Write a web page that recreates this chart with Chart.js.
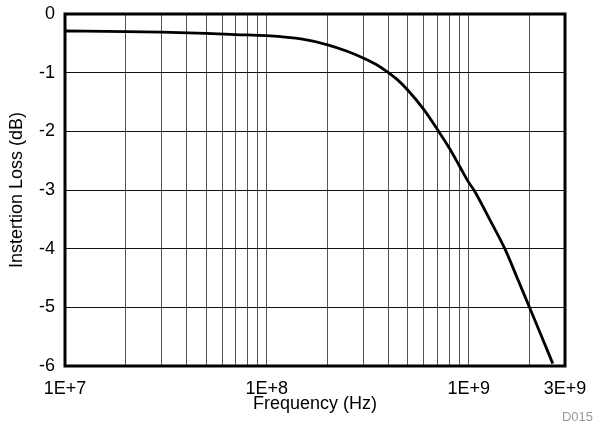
<!DOCTYPE html>
<html>
<head>
<meta charset="utf-8">
<script src="https://cdn.jsdelivr.net/npm/chart.js@4.4.0/dist/chart.umd.min.js"></script>
<style>
  html, body { margin: 0; padding: 0; background: #fff; }
  #wrap { width: 595px; height: 423px; }
</style>
</head>
<body>
<div id="wrap"><canvas id="chart" width="595" height="423"></canvas></div>
<script>
// Insertion loss curve
const frequency = [1e7, 2e7, 3e7, 5e7, 7e7, 1e8, 1.5e8, 2e8, 2.5e8, 3e8, 3.5e8, 4e8, 4.5e8, 5e8,
                   6e8, 7e8, 8e8, 9e8, 1e9, 1.07e9, 1.27e9, 1.51e9, 1.74e9, 2e9, 2.3e9, 2.61e9];
const insertionLoss = [-0.29, -0.30, -0.31, -0.33, -0.35, -0.37, -0.43, -0.525, -0.635, -0.75, -0.865, -1.0, -1.14, -1.30,
                       -1.63, -1.97, -2.28, -2.59, -2.87, -3.02, -3.5, -4.0, -4.5, -5.0, -5.5, -5.96];

// vertical grid lines and the ones that get a label
const xGridValues = [1e7, 2e7, 3e7, 4e7, 5e7, 6e7, 7e7, 8e7, 9e7,
                     1e8, 2e8, 3e8, 4e8, 5e8, 6e8, 7e8, 8e8, 9e8,
                     1e9, 2e9, 3e9];
const xLabels = { 1e7: '1E+7', 1e8: '1E+8', 1e9: '1E+9', 3e9: '3E+9' };
const yTicks = [0, -1, -2, -3, -4, -5, -6];

const FONT = 'Liberation Sans, Arial, sans-serif';

const frameAndNote = {
    id: 'frameAndNote',
    afterDraw(chart) {
        const ctx = chart.ctx;
        const a = chart.chartArea;
        ctx.save();
        ctx.strokeStyle = '#000';
        ctx.lineWidth = 3;
        ctx.strokeRect(a.left, a.top, a.right - a.left, a.bottom - a.top);
        ctx.fillStyle = '#999';
        ctx.font = '13px ' + FONT;
        ctx.textAlign = 'right';
        ctx.textBaseline = 'alphabetic';
        ctx.fillText('D015', 593, 421);
        ctx.restore();
    }
};

new Chart(document.getElementById('chart'), {
    type: 'line',
    data: {
        datasets: [{
            data: frequency.map((f, i) => ({ x: f, y: insertionLoss[i] })),
            borderColor: '#000',
            borderWidth: 2.8,
            pointRadius: 0,
            cubicInterpolationMode: 'monotone',
            fill: false
        }]
    },
    options: {
        responsive: false,
        animation: false,
        layout: { padding: { top: 14, right: 30, left: 0, bottom: 0 } },
        plugins: {
            legend: { display: false },
            tooltip: { enabled: false }
        },
        scales: {
            x: {
                type: 'logarithmic',
                min: 1e7,
                max: 3e9,
                afterBuildTicks(scale) {
                    scale.ticks = xGridValues.map(v => ({ value: v }));
                },
                afterFit(scale) {
                    scale.height = 57;
                    scale.paddingLeft = 0;
                    scale.paddingRight = 0;
                },
                grid: { color: '#555', lineWidth: 1, drawTicks: false },
                border: { display: false },
                ticks: {
                    autoSkip: false,
                    maxRotation: 0,
                    padding: 12,
                    color: '#000',
                    font: { family: FONT, size: 18 },
                    callback: v => xLabels[v] || ''
                },
                title: {
                    display: true,
                    text: 'Frequency (Hz)',
                    color: '#000',
                    font: { family: FONT, size: 18 },
                    padding: { top: 0, bottom: 8 }
                }
            },
            y: {
                min: -6,
                max: 0,
                afterBuildTicks(scale) {
                    scale.ticks = yTicks.map(v => ({ value: v }));
                },
                afterFit(scale) {
                    scale.width = 65;
                    scale.paddingTop = 0;
                    scale.paddingBottom = 0;
                },
                grid: { color: '#111', lineWidth: 1, drawTicks: false },
                border: { display: false },
                ticks: {
                    padding: 10,
                    color: '#000',
                    font: { family: FONT, size: 18 },
                    callback: v => String(v)
                },
                title: {
                    display: true,
                    text: 'Instertion Loss (dB)',
                    color: '#000',
                    font: { family: FONT, size: 18 },
                    padding: { top: 6, bottom: 0 }
                }
            }
        }
    },
    plugins: [frameAndNote]
});
</script>
</body>
</html>
